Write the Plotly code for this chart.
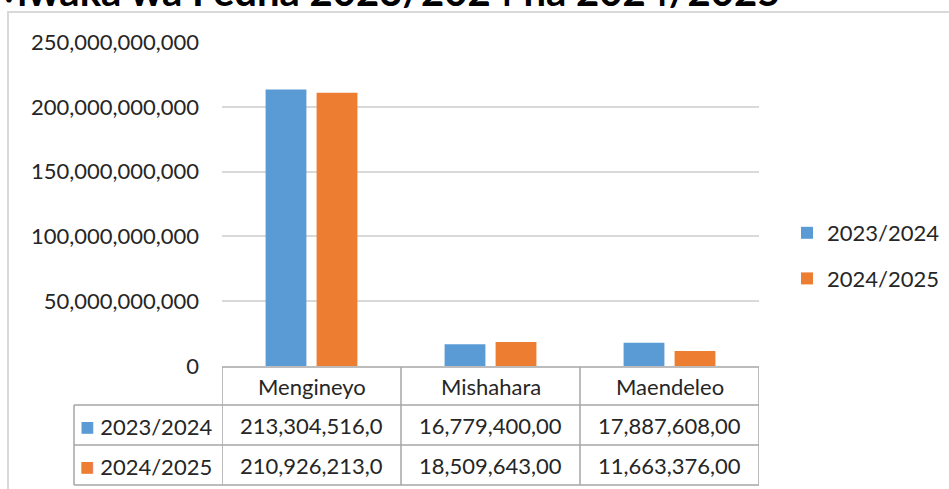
import plotly.graph_objects as go

categories = ["Mengineyo", "Mishahara", "Maendeleo"]
series_names = ["2023/2024", "2024/2025"]
values_2023 = [213304516000, 16779400000, 17887608000]
values_2024 = [210926213000, 18509643000, 11663376000]
colors = ["#5B9BD5", "#ED7D31"]
title_text = "Mwaka wa Fedha 2023/2024 na 2024/2025"
y_ticks = [0, 50e9, 100e9, 150e9, 200e9, 250e9]

FONT = "Lato"
FS = 22
GRID = "#d9d9d9"
BORDER = "#a6a6a6"

W, H = 949, 489
L, R, T, B = 222, 190, 42, 123
pw, ph = W - L - R, H - T - B

def px_y(py):
    return (H - B - py) / ph

def px_x(px):
    return (px - L) / pw

fig = go.Figure()
for name, vals, col in zip(series_names, [values_2023, values_2024], colors):
    fig.add_trace(go.Bar(x=categories, y=vals, name=name, marker_color=col,
                         marker_line_width=0, legendgroup=name))

fig.update_layout(
    width=W, height=H,
    margin=dict(l=L, r=R, t=T, b=B, autoexpand=False),
    paper_bgcolor="white", plot_bgcolor="white",
    font=dict(family=FONT, size=FS, color="#262626"),
    barmode="group", bargap=0.43, bargroupgap=0.2,
    showlegend=True,
    legend=dict(x=px_x(787), y=px_y(256), xanchor="left", yanchor="middle",
                traceorder="grouped", tracegroupgap=14,
                font=dict(family=FONT, size=FS, color="#262626")),
)
fig.update_xaxes(showticklabels=False, showgrid=False, zeroline=False, showline=False,
                 range=[-0.5, 2.5], automargin=False)
fig.update_yaxes(range=[0, 250e9], tickvals=y_ticks, tickformat=",.0f",
                 showgrid=True, gridcolor=GRID, gridwidth=1.5, zeroline=False,
                 showline=False, ticks="", ticklabelstandoff=22, automargin=False)

shapes = []
shapes.append(dict(type="rect", xref="paper", yref="paper",
                   x0=px_x(8), x1=px_x(W + 10), y0=px_y(H + 10), y1=px_y(12),
                   line=dict(color="#d9d9d9", width=2), layer="below"))

row_tops = [367, 405, 445, 485]
y_h0, y_r1, y_r2, y_bot = [px_y(v) for v in row_tops]
lw = dict(color=BORDER, width=1.5)
shapes.append(dict(type="line", xref="x", yref="paper", x0=-0.5, x1=len(categories) - 0.5,
                   y0=y_h0, y1=y_h0, line=lw))
for yy in [y_r1, y_r2, y_bot]:
    shapes.append(dict(type="line", xref="paper", yref="paper", x0=px_x(74), x1=1,
                       y0=yy, y1=yy, line=lw))
for i in range(len(categories) + 1):
    shapes.append(dict(type="line", xref="x", yref="paper", x0=i - 0.5, x1=i - 0.5,
                       y0=y_bot, y1=y_h0, line=lw))
shapes.append(dict(type="line", xref="paper", yref="paper", x0=px_x(74), x1=px_x(74),
                   y0=y_bot, y1=y_r1, line=lw))

annotations = []
annotations.append(dict(text="<b>" + title_text + "</b>", xref="paper", yref="paper",
                        x=px_x(-12), y=px_y(17), xanchor="left", yanchor="bottom",
                        showarrow=False, font=dict(family=FONT, size=40, color="#000000")))
for i, c in enumerate(categories):
    annotations.append(dict(text=c, xref="x", yref="paper", x=i, y=(y_h0 + y_r1) / 2,
                            showarrow=False, xanchor="center", yanchor="middle"))

def fmt(v):
    return f"{v:,.0f}"[:13]

for row, (name, vals, col) in enumerate(zip(series_names, [values_2023, values_2024], colors)):
    yc = [(y_r1 + y_r2) / 2, (y_r2 + y_bot) / 2][row]
    annotations.append(dict(text=f"<span style='color:{col};font-size:24px'>■</span> {name}",
                            xref="paper", yref="paper", x=px_x(78), y=yc,
                            xanchor="left", yanchor="middle", showarrow=False))
    for i, v in enumerate(vals):
        annotations.append(dict(text=fmt(v), xref="x", yref="paper", x=i, y=yc,
                                showarrow=False, xanchor="center", yanchor="middle"))

fig.update_layout(shapes=shapes, annotations=annotations)
fig.write_html("out.html", config={"displayModeBar": False},
               post_script="document.body.style.margin='0';document.body.style.overflow='hidden';")
